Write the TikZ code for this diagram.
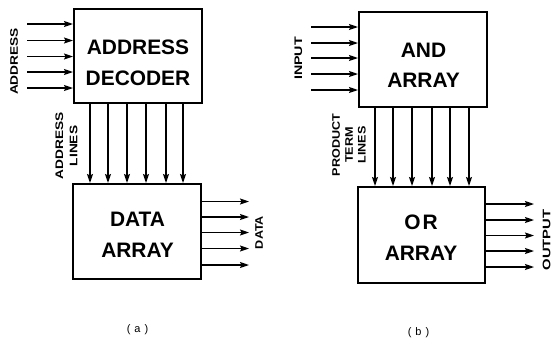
\documentclass[tikz,border=0pt]{standalone}
\usepackage{fontspec}
\usepackage{graphicx}
\setmainfont{Liberation Sans}
\usetikzlibrary{arrows.meta}
\newcommand\wdt[2][1.25]{\scalebox{#1}[1]{#2}}
\tikzset{
  blk/.style={draw, line width=2bp, minimum width=128bp, minimum height=94bp, inner sep=0pt},
  blktxt/.style={anchor=base, inner sep=0pt, font=\fontsize{21}{25}\selectfont\bfseries},
  sidetxt/.style={rotate=90, align=center, inner sep=0pt, font=\fontsize{11}{14.5}\selectfont\bfseries},
  captxt/.style={inner sep=0pt, font=\fontsize{11}{13}\selectfont},
  arr/.style={line width=1.4bp, -{Stealth[length=9bp,width=6bp,inset=1.5bp]}}
}
\begin{document}
\begin{tikzpicture}[x=1bp,y=-1bp]
\useasboundingbox (0,0) rectangle (552,345);
% ---- (a)
\node[blk] (dec) at (138,56) {};
\node[blk, minimum height=95bp] (dat) at (137,231.5) {};
\node[blktxt] (decT1) at (138,54) {ADDRESS};
\node[blktxt] (decT2) at (138,85) {DECODER};
\node[blktxt] (datT1) at (137.5,226) {DATA};
\node[blktxt] (datT2) at (137.5,257) {ARRAY};
\foreach \y in {24,40.5,56.5,72,88}
  \draw[arr] (27,\y) -- (dec.west |- 0,\y);
\foreach \x in {90,108,127,146,166,183}
  \draw[arr] (dec.south -| \x,0) -- (dat.north -| \x,0);
\foreach \y in {201.5,217,232.5,248.5,265}
  \draw[arr] (dat.east |- 0,\y) -- (249,\y);
\node[sidetxt] (lblA) at (14,61.5) {\wdt{ADDRESS}};
\node[sidetxt] (lblAL) at (66.5,146) {\wdt{ADDRESS}\\\wdt{LINES}};
\node[sidetxt] (lblD) at (259,232.5) {\wdt[1.15]{DATA}};
\node[captxt] (capA) at (137.5,330) {(\hspace{4bp}a\hspace{4bp})};
% ---- (b)
\node[blk, minimum height=95bp] (and) at (423,59.5) {};
\node[blk, minimum width=127bp, minimum height=96bp] (or) at (421.5,235) {};
\node[blktxt] (andT1) at (423.5,57) {AND};
\node[blktxt] (andT2) at (423.5,87) {ARRAY};
\node[blktxt] (orT1) at (421,229) {O\hspace{2bp}R};
\node[blktxt] (orT2) at (421,260) {ARRAY};
\foreach \y in {27,43,58,74,90}
  \draw[arr] (311,\y) -- (and.west |- 0,\y);
\foreach \x in {375,393,412,432,450,469}
  \draw[arr] (and.south -| \x,0) -- (or.north -| \x,0);
\foreach \y in {204,220,235.5,251,267}
  \draw[arr] (or.east |- 0,\y) -- (534,\y);
\node[sidetxt] (lblI) at (298.5,58.5) {\wdt[1.3]{INPUT}};
\node[sidetxt, font=\fontsize{11}{13}\selectfont\bfseries] (lblP) at (349,145) {\wdt[1.15]{PRODUCT}\\\wdt[1.15]{TERM}\\\wdt[1.15]{LINES}};
\node[sidetxt] (lblO) at (546.5,240) {\wdt[1.35]{OUTPUT}};
\node[captxt] (capB) at (418.5,332.5) {(\hspace{4bp}b\hspace{4bp})};
\end{tikzpicture}
\end{document}
